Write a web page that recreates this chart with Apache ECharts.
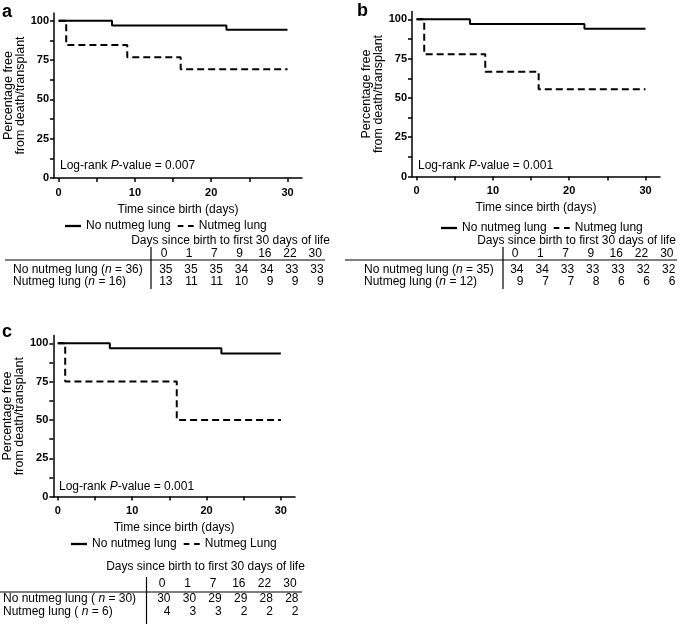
<!DOCTYPE html>
<html>
<head>
<meta charset="utf-8">
<script src="https://cdn.jsdelivr.net/npm/echarts@6/dist/echarts.min.js"></script>
<style>
html,body{margin:0;padding:0;background:#fff;}
#chart{width:685px;height:624px;}
</style>
</head>
<body>
<div id="chart"></div>
<script>
// ---- Kaplan-Meier step data (day, % free) ----
const aNoX = [0, 7, 22, 30];
const aNoY = [100, 97.1, 94.3, 94.3];
const aNutX = [0, 1, 9, 16, 30];
const aNutY = [100, 84.6, 76.9, 69.2, 69.2];

const bNoX = [0, 7, 22, 30];
const bNoY = [100, 97.1, 94.1, 94.1];
const bNutX = [0, 1, 9, 16, 30];
const bNutY = [100, 77.8, 66.7, 55.6, 55.6];

const cNoX = [0, 7, 22, 30];
const cNoY = [100, 96.7, 93.3, 93.3];
const cNutX = [0, 1, 16, 30];
const cNutY = [100, 75, 50, 50];

// ---- axis ticks ----
const xTickVals = [0, 5, 10, 15, 20, 25, 30];
const xLabelVals = [0, 10, 20, 30];
const yTickVals = [0, 12.5, 25, 37.5, 50, 62.5, 75, 87.5, 100];
const yLabelVals = [0, 25, 50, 75, 100];

// ---- texts ----
const panelLetters = ['a', 'b', 'c'];
const pValues = ['0.007', '0.001', '0.001'];
const seriesNoName = 'No nutmeg lung';
const seriesNutNames = ['Nutmeg lung', 'Nutmeg lung', 'Nutmeg Lung'];

// ---- numbers-at-risk tables ----
const tableTitle = 'Days since birth to first 30 days of life';
const aDays = [0, 1, 7, 9, 16, 22, 30];
const aRiskNo = [35, 35, 35, 34, 34, 33, 33];
const aRiskNut = [13, 11, 11, 10, 9, 9, 9];
const aLabels = ['No nutmeg lung ({i|n} = 36)', 'Nutmeg lung ({i|n} = 16)'];

const bDays = [0, 1, 7, 9, 16, 22, 30];
const bRiskNo = [34, 34, 33, 33, 33, 32, 32];
const bRiskNut = [9, 7, 7, 8, 6, 6, 6];
const bLabels = ['No nutmeg lung ({i|n} = 35)', 'Nutmeg lung ({i|n} = 12)'];

const cDays = [0, 1, 7, 16, 22, 30];
const cRiskNo = [30, 30, 29, 29, 28, 28];
const cRiskNut = [4, 3, 3, 2, 2, 2];
const cLabels = ['No nutmeg lung ( {i|n} = 30)', 'Nutmeg lung ( {i|n} = 6)'];

const FONT = '"Liberation Sans", Arial, Helvetica, sans-serif';
const BLACK = '#000';

const zip = (xs, ys) => xs.map((x, i) => [x, ys[i]]);

const grids = [
  {left: 54, top: 13, width: 248, height: 165},
  {left: 412, top: 11.5, width: 248, height: 165},
  {left: 53.3, top: 335.6, width: 241.7, height: 161}
].map(g => Object.assign({outerBoundsMode: 'none', containLabel: false}, g));

const xAxes = grids.map((g, i) => ({
  gridIndex: i, type: 'value', min: -0.6, max: 31.9,
  axisLine: {show: true, onZero: false, lineStyle: {color: BLACK, width: 1.5}},
  axisTick: {show: true, length: 4, customValues: xTickVals, lineStyle: {color: BLACK, width: 1.5}},
  axisLabel: {customValues: xLabelVals, color: BLACK, fontWeight: 'bold', fontSize: 11, fontFamily: FONT, margin: 9},
  splitLine: {show: false},
  name: 'Time since birth (days)', nameLocation: 'middle', nameGap: 25.5,
  nameTextStyle: {color: BLACK, fontSize: 12, fontFamily: FONT}
}));

const yAxes = grids.map((g, i) => ({
  gridIndex: i, type: 'value', min: 0, max: 105,
  axisLine: {show: true, onZero: false, lineStyle: {color: BLACK, width: 1.5}},
  axisTick: {show: true, length: 4, customValues: yTickVals, lineStyle: {color: BLACK, width: 1.5}},
  axisLabel: {customValues: yLabelVals, color: BLACK, fontWeight: 'bold', fontSize: 11, fontFamily: FONT, margin: 5},
  splitLine: {show: false},
  name: 'Percentage free\nfrom death/transplant', nameLocation: 'middle', nameRotate: 90, nameGap: 24,
  nameTextStyle: {color: BLACK, fontSize: 12.5, fontFamily: FONT, lineHeight: 12, align: 'center'}
}));

const dash = [7, 4];
const curves = [
  [zip(aNoX, aNoY), zip(aNutX, aNutY)],
  [zip(bNoX, bNoY), zip(bNutX, bNutY)],
  [zip(cNoX, cNoY), zip(cNutX, cNutY)]
];
const series = [];
curves.forEach((pair, i) => {
  series.push({
    type: 'line', name: seriesNoName, xAxisIndex: i, yAxisIndex: i, step: 'end',
    symbol: 'none', data: pair[0], z: 3,
    lineStyle: {color: BLACK, width: 2, type: 'solid'}, itemStyle: {color: BLACK}
  });
  series.push({
    type: 'line', name: seriesNutNames[i], xAxisIndex: i, yAxisIndex: i, step: 'end',
    symbol: 'none', data: pair[1], z: 2,
    lineStyle: {color: BLACK, width: 2, type: dash}, itemStyle: {color: BLACK}
  });
});

const solidIcon = 'path://M0,0H14V2H0Z';
const dashIcon = 'path://M0,0H6V2H0Z M11,0H17V2H11Z';
const legendPos = [{left: 60, top: 215}, {left: 436, top: 217}, {left: 66, top: 533}];
const legends = legendPos.map((p, i) => ({
  left: p.left, top: p.top, orient: 'horizontal', itemWidth: 16, itemHeight: 14, itemGap: 7,
  data: [{name: seriesNoName, icon: solidIcon}, {name: seriesNutNames[i], icon: dashIcon}],
  itemStyle: {color: BLACK, borderWidth: 0},
  textStyle: {color: BLACK, fontSize: 12, fontFamily: FONT},
  selectedMode: false
}));

// graphic: letters, p-values, tables
const graphic = [];
const letterPos = [[2, 3], [357, 2], [2, 323]];
letterPos.forEach((p, i) => graphic.push({
  type: 'text', left: p[0], top: p[1],
  style: {text: panelLetters[i], font: 'bold 18px ' + FONT, fill: BLACK}
}));
const pPos = [[60, 166], [418, 165.5], [59, 486.5]];
pPos.forEach((p, i) => graphic.push({
  type: 'text', x: p[0], y: p[1],
  style: {
    text: 'Log-rank {i|P}-value = ' + pValues[i], fill: BLACK, fontSize: 12, fontFamily: FONT,
    verticalAlign: 'middle', rich: {i: {fontStyle: 'italic', fontSize: 12, fontFamily: FONT, fill: BLACK}}
  }
}));

function addTable(cfg) {
  const {days, rows, labels, titleX, titleY, headY, lineY, rowY, hx1, hx2, vx, vy1, vy2, labX, right0, step} = cfg;
  graphic.push({type: 'text', x: titleX, y: titleY,
    style: {text: tableTitle, fill: BLACK, fontSize: 12, fontFamily: FONT, align: 'center', verticalAlign: 'middle'}});
  days.forEach((d, j) => graphic.push({type: 'text', x: right0 + step * j - 8.5, y: headY,
    style: {text: String(d), fill: BLACK, fontSize: 12, fontFamily: FONT, align: 'center', verticalAlign: 'middle'}}));
  graphic.push({type: 'line', shape: {x1: hx1, y1: lineY, x2: hx2, y2: lineY}, style: {stroke: BLACK, lineWidth: 1.2}});
  graphic.push({type: 'line', shape: {x1: vx, y1: vy1, x2: vx, y2: vy2}, style: {stroke: BLACK, lineWidth: 1.2}});
  rows.forEach((vals, r) => {
    graphic.push({type: 'text', x: labX, y: rowY[r],
      style: {text: labels[r], fill: BLACK, fontSize: 12, fontFamily: FONT, verticalAlign: 'middle',
        rich: {i: {fontStyle: 'italic', fontSize: 12, fontFamily: FONT, fill: BLACK}}}});
    vals.forEach((v, j) => graphic.push({type: 'text', x: right0 + step * j, y: rowY[r],
      style: {text: String(v), fill: BLACK, fontSize: 12, fontFamily: FONT, align: 'right', verticalAlign: 'middle'}}));
  });
}

addTable({days: aDays, rows: [aRiskNo, aRiskNut], labels: aLabels, titleX: 230.5, titleY: 241, headY: 254,
  lineY: 260, rowY: [270, 282], hx1: 5, hx2: 325, vx: 151, vy1: 247, vy2: 289, labX: 13, right0: 172.5, step: 25.2});
addTable({days: bDays, rows: [bRiskNo, bRiskNut], labels: bLabels, titleX: 576.5, titleY: 241, headY: 254,
  lineY: 260, rowY: [270, 282], hx1: 345, hx2: 677, vx: 503, vy1: 247, vy2: 289, labX: 364, right0: 523.5, step: 25.3});
addTable({days: cDays, rows: [cRiskNo, cRiskNut], labels: cLabels, titleX: 205.5, titleY: 567, headY: 584,
  lineY: 592, rowY: [599, 612], hx1: 0, hx2: 302, vx: 146.5, vy1: 577, vy2: 624, labX: 3, right0: 170.5, step: 25.6});

const chart = echarts.init(document.getElementById('chart'), null, {renderer: 'canvas'});
chart.setOption({
  animation: false,
  backgroundColor: '#fff',
  textStyle: {fontFamily: FONT},
  grid: grids,
  xAxis: xAxes,
  yAxis: yAxes,
  legend: legends,
  series: series,
  graphic: graphic
});
</script>
</body>
</html>
